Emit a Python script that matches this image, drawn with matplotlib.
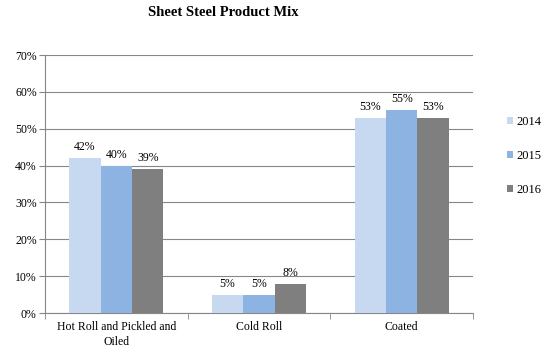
import numpy as np
import matplotlib.pyplot as plt
from matplotlib.ticker import FuncFormatter

categories = ['Hot Roll and Pickled and\nOiled', 'Cold Roll', 'Coated']
years = ['2014', '2015', '2016']
v2014 = [42, 5, 53]
v2015 = [40, 5, 55]
v2016 = [39, 8, 53]
colors = ['#c6d9f1', '#8db3e2', '#7f7f7f']

plt.rcParams['font.family'] = ['Liberation Serif', 'DejaVu Serif']

fig = plt.figure(figsize=(5.46, 3.56), dpi=100)
ax = fig.add_axes([45/546, 43/356, 428/546, 258/356])

x = np.arange(len(categories))
w = 0.22
for i, (vals, lab) in enumerate(zip([v2014, v2015, v2016], years)):
    bars = ax.bar(x + (i - 1) * w, vals, w, color=colors[i], label=lab, zorder=3)
    for b, v in zip(bars, vals):
        ax.text(b.get_x() + b.get_width() / 2, v + 1.3, '%d%%' % v,
                ha='center', va='bottom', fontsize=8.5)

ax.set_xlim(-0.5, 2.5)
ax.set_ylim(0, 70)
ax.set_yticks(range(0, 71, 10))
ax.yaxis.set_major_formatter(FuncFormatter(lambda v, p: '%d%%' % v))
ax.grid(axis='y', color='#868686', linewidth=0.8, zorder=0)

ax.set_xticks(x)
ax.set_xticklabels(categories, fontsize=8.5, linespacing=1.25)
ax.tick_params(axis='x', length=0, pad=6)
ax.set_xticks([-0.5, 0.5, 1.5, 2.5], minor=True)
ax.tick_params(axis='x', which='minor', length=4, color='#868686')
ax.tick_params(axis='y', labelsize=8.5, length=4, color='#868686', pad=2)

for s in ['top', 'right']:
    ax.spines[s].set_visible(False)
for s in ['left', 'bottom']:
    ax.spines[s].set_color('#868686')
    ax.spines[s].set_linewidth(0.8)

fig.legend(loc='upper left', bbox_to_anchor=(507/546, 1 - 116/356), frameon=False,
           fontsize=9, handlelength=0.5, handleheight=0.5, handletextpad=0.25,
           labelspacing=1.75, borderpad=0, borderaxespad=0)

fig.text(223/546, 1 - 13/356, 'Sheet Steel Product Mix', ha='center', va='center',
         fontsize=10.5, fontweight='bold')

fig.savefig('out.png', dpi=100)
